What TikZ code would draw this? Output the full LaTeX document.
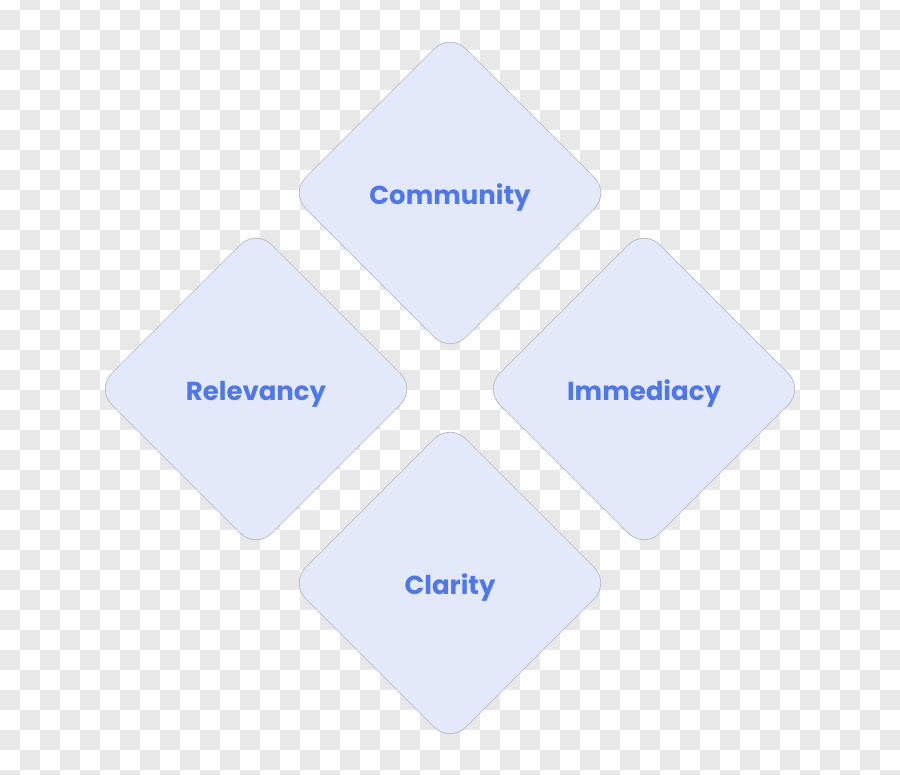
\documentclass[tikz,border=0pt]{standalone}
\usepackage{fontspec}
\newfontfamily\popfont{Poppins}[UprightFont=* Bold]
\usetikzlibrary{shapes.geometric}
\definecolor{checkgray}{RGB}{232,232,232}
\definecolor{diafill}{RGB}{227,232,251}
\definecolor{diaborder}{RGB}{190,190,198}
\definecolor{textblue}{RGB}{78,120,234}
\tikzset{
  dia/.style={diamond, aspect=1, minimum width=320pt, minimum height=320pt,
    inner sep=0pt, fill=diafill, draw=diaborder, line width=0.8pt,
    rounded corners=22pt, text=textblue, text height=23pt, text depth=0pt,
    font=\popfont\fontsize{26}{30}\selectfont},
  checker/.style={fill=checkgray, draw=none}
}
\begin{document}
\begin{tikzpicture}[x=1pt,y=-1pt]
\useasboundingbox (0,0) rectangle (900,775);
\fill[white] (0,0) rectangle (900,775);
\foreach \r in {0,...,39}{
  \foreach \c in {0,...,22}{
    \path[checker] ({40*\c+20-20*mod(\r,2)},{\r*20-10}) rectangle ({40*\c+40-20*mod(\r,2)},{\r*20+10});
  }
}
\node[dia] (community) at (450,193) {Community};
\node[dia] (relevancy) at (256,389) {Relevancy};
\node[dia] (immediacy) at (644,389) {Immediacy};
\node[dia] (clarity) at (450,583) {Clarity};
\end{tikzpicture}
\end{document}
